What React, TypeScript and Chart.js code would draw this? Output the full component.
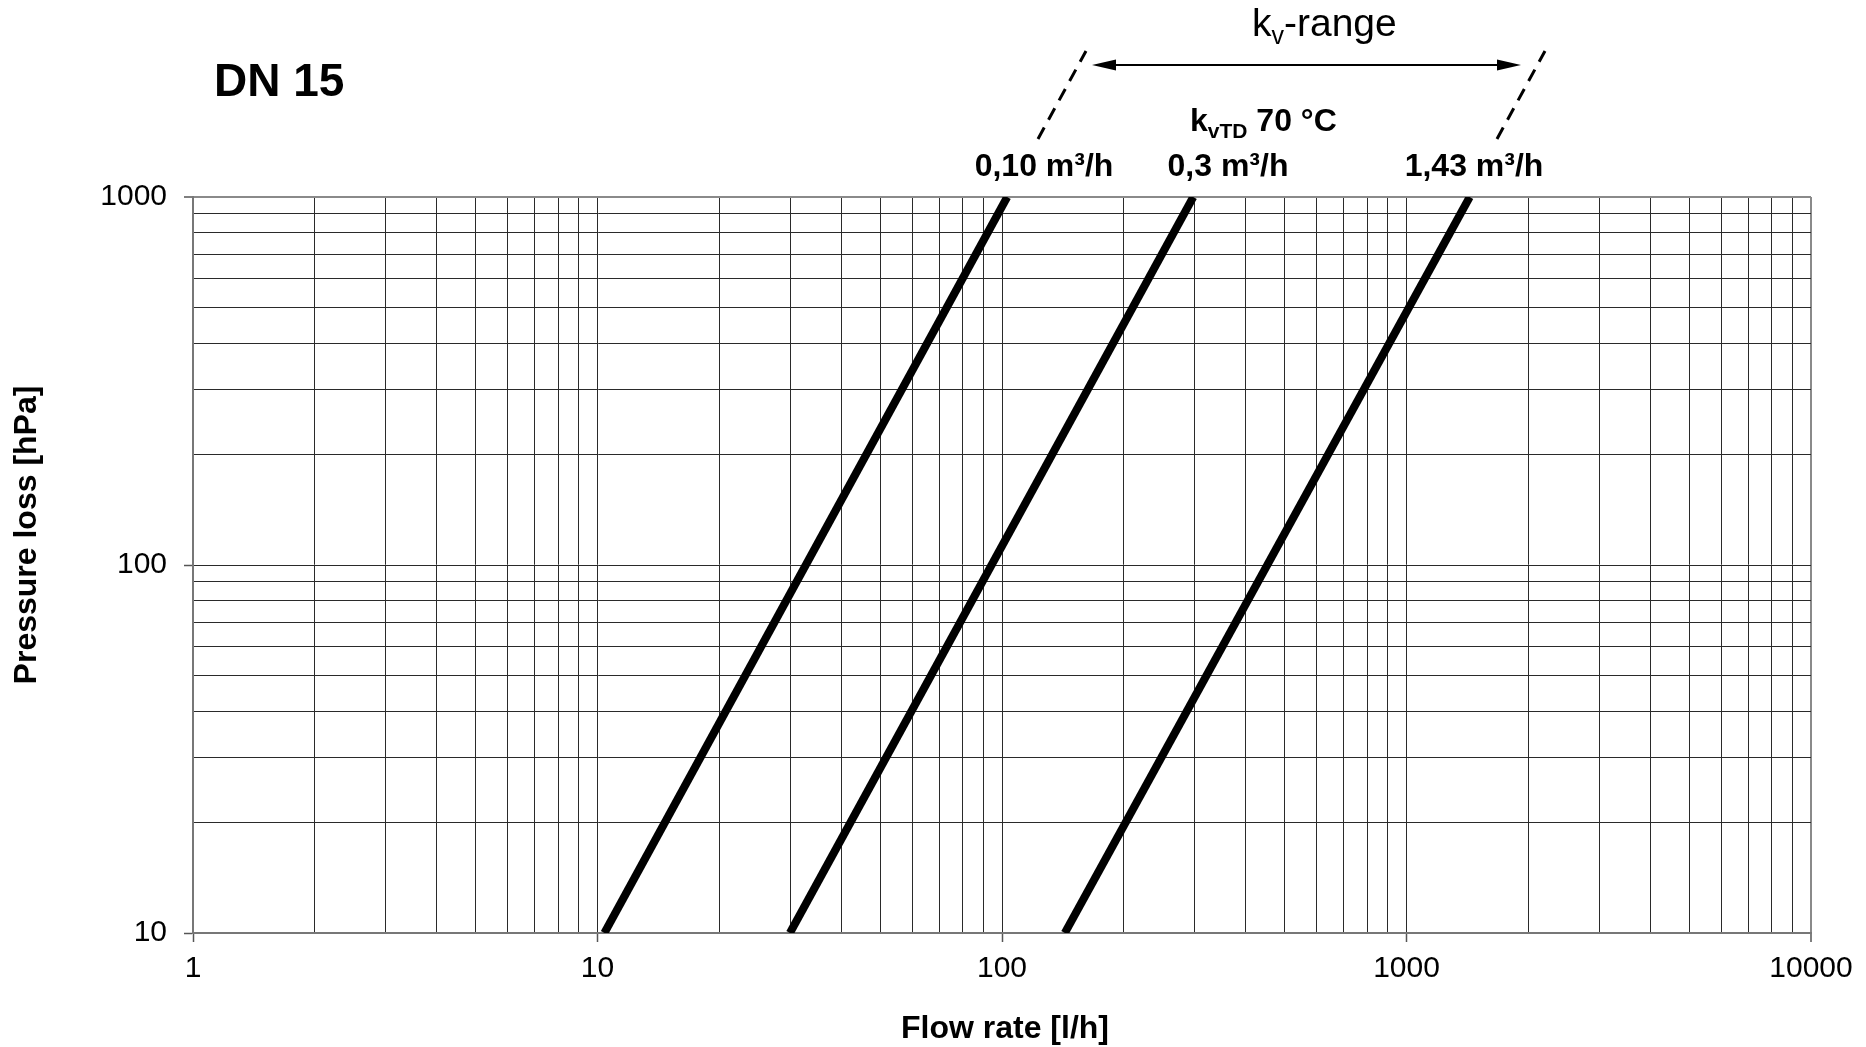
import React, { useEffect, useRef } from 'react';
import { Chart, registerables } from 'chart.js';

Chart.register(...registerables);

// ---- data ----
const kvLabels = ['0,10 m³/h', '0,3 m³/h', '1,43 m³/h'];
const flowAtLowPressure = [10.4, 29.9, 143]; // l/h at 10 hPa
const flowAtHighPressure = [103, 297, 1433]; // l/h at 1000 hPa
const pressureEnds = [10, 1000]; // hPa

const xGridValues = [
  1, 2, 3, 4, 5, 6, 7, 8, 9,
  10, 20, 30, 40, 50, 60, 70, 80, 90,
  100, 200, 300, 400, 500, 600, 700, 800, 900,
  1000, 2000, 3000, 4000, 5000, 6000, 7000, 8000, 9000,
  10000,
];
const yGridValues = [
  10, 20, 30, 40, 50, 60, 70, 80, 90,
  100, 200, 300, 400, 500, 600, 700, 800, 900,
  1000,
];
const xTickLabels = [1, 10, 100, 1000, 10000];
const yTickLabels = [10, 100, 1000];

const chartTitle = 'DN 15';
const xTitle = 'Flow rate [l/h]';
const yTitle = 'Pressure loss [hPa]';

const FONT = '"Liberation Sans", Arial, Helvetica, sans-serif';

const annotationPlugin = {
  id: 'annotations',
  afterDraw(chart: any) {
    const ctx = chart.ctx as CanvasRenderingContext2D;
    const area = chart.chartArea;
    ctx.save();
    ctx.fillStyle = '#000';
    ctx.strokeStyle = '#000';
    ctx.textBaseline = 'alphabetic';

    // Title
    ctx.font = `bold 46px ${FONT}`;
    ctx.textAlign = 'left';
    ctx.fillText(chartTitle, 214, 96);

    // Axis titles
    ctx.font = `bold 32px ${FONT}`;
    ctx.textAlign = 'center';
    ctx.fillText(xTitle, (area.left + area.right) / 2 + 3, 1038);
    ctx.save();
    ctx.translate(36, 535);
    ctx.rotate(-Math.PI / 2);
    ctx.fillText(yTitle, 0, 0);
    ctx.restore();

    // kv-range text
    ctx.textAlign = 'left';
    let x = 1252;
    ctx.font = `39px ${FONT}`;
    ctx.fillText('k', x, 36);
    x += ctx.measureText('k').width;
    ctx.font = `25px ${FONT}`;
    ctx.fillText('v', x, 44);
    x += ctx.measureText('v').width;
    ctx.font = `39px ${FONT}`;
    ctx.fillText('-range', x, 36);

    // Arrow
    const ay = 65;
    const ax1 = 1092;
    const ax2 = 1521;
    ctx.lineWidth = 2;
    ctx.beginPath();
    ctx.moveTo(ax1 + 10, ay);
    ctx.lineTo(ax2 - 10, ay);
    ctx.stroke();
    ctx.beginPath();
    ctx.moveTo(ax1, ay);
    ctx.lineTo(ax1 + 24, ay - 5.5);
    ctx.lineTo(ax1 + 24, ay + 5.5);
    ctx.closePath();
    ctx.fill();
    ctx.beginPath();
    ctx.moveTo(ax2, ay);
    ctx.lineTo(ax2 - 24, ay - 5.5);
    ctx.lineTo(ax2 - 24, ay + 5.5);
    ctx.closePath();
    ctx.fill();

    // Dashed lines
    ctx.lineWidth = 3;
    ctx.setLineDash([13, 9]);
    ctx.beginPath();
    ctx.moveTo(1038, 139);
    ctx.lineTo(1086, 51);
    ctx.moveTo(1497, 139);
    ctx.lineTo(1545, 51);
    ctx.stroke();
    ctx.setLineDash([]);

    // kvTD 70 °C
    x = 1190;
    ctx.font = `bold 32px ${FONT}`;
    ctx.fillText('k', x, 131);
    x += ctx.measureText('k').width;
    ctx.font = `bold 21px ${FONT}`;
    ctx.fillText('vTD', x, 138);
    x += ctx.measureText('vTD').width;
    ctx.font = `bold 32px ${FONT}`;
    ctx.fillText(' 70 °C', x, 131);

    // kv labels over line tops
    ctx.textAlign = 'center';
    ctx.font = `bold 32px ${FONT}`;
    const centers = [1044, 1228, 1474];
    kvLabels.forEach((t, i) => ctx.fillText(t, centers[i], 176));

    ctx.restore();
  },
};

export default function App() {
  const ref = useRef<HTMLCanvasElement | null>(null);

  useEffect(() => {
    document.body.style.margin = '0';
    document.body.style.overflow = 'hidden';
    const canvas = ref.current;
    if (!canvas) return;

    const datasets = kvLabels.map((label, i) => ({
      label,
      data: [
        { x: flowAtLowPressure[i], y: pressureEnds[0] },
        { x: flowAtHighPressure[i], y: pressureEnds[1] },
      ],
      showLine: true,
      borderColor: '#000',
      backgroundColor: '#000',
      borderWidth: 8,
      pointRadius: 0,
      clip: 0,
    }));

    const gridColor = (max: number) => (ctx: any) =>
      ctx.tick && ctx.tick.value === max ? '#8a8a8a' : '#2a2a2a';
    const gridWidth = (max: number) => (ctx: any) =>
      ctx.tick && ctx.tick.value === max ? 2 : 1;

    const chart = new Chart(canvas, {
      type: 'scatter',
      data: { datasets },
      plugins: [annotationPlugin],
      options: {
        responsive: false,
        animation: false,
        devicePixelRatio: 1,
        layout: { padding: { top: 197, right: 55, left: 0, bottom: 0 } },
        plugins: {
          legend: { display: false },
          tooltip: { enabled: false },
          title: { display: false },
        },
        scales: {
          x: {
            type: 'logarithmic',
            min: 1,
            max: 10000,
            afterBuildTicks: (scale: any) => {
              scale.ticks = xGridValues.map((v) => ({ value: v }));
            },
            afterFit: (scale: any) => {
              scale.height = 114;
            },
            ticks: {
              autoSkip: false,
              maxRotation: 0,
              minRotation: 0,
              padding: 9,
              color: '#000',
              font: { family: FONT, size: 30 },
              callback: (value: any) => (xTickLabels.includes(Number(value)) ? String(value) : ''),
            },
            grid: {
              color: gridColor(10000),
              lineWidth: gridWidth(10000),
              drawTicks: true,
              tickLength: 9,
              tickColor: (ctx: any) =>
                ctx.tick && xTickLabels.includes(ctx.tick.value) ? '#555' : 'rgba(0,0,0,0)',
              tickWidth: 1.5,
            },
            border: { display: true, color: '#777', width: 2 },
          },
          y: {
            type: 'logarithmic',
            min: 10,
            max: 1000,
            afterBuildTicks: (scale: any) => {
              scale.ticks = yGridValues.map((v) => ({ value: v }));
            },
            afterFit: (scale: any) => {
              scale.width = 193;
            },
            ticks: {
              autoSkip: false,
              padding: 17,
              color: '#000',
              font: { family: FONT, size: 30 },
              callback: (value: any) => (yTickLabels.includes(Number(value)) ? String(value) : ''),
            },
            grid: {
              color: gridColor(1000),
              lineWidth: gridWidth(1000),
              drawTicks: true,
              tickLength: 9,
              tickColor: (ctx: any) =>
                ctx.tick && yTickLabels.includes(ctx.tick.value) ? '#555' : 'rgba(0,0,0,0)',
              tickWidth: 1.5,
            },
            border: { display: true, color: '#777', width: 2 },
          },
        },
      },
    } as any);

    return () => chart.destroy();
  }, []);

  return (
    <div style={{ width: 1866, height: 1047, background: '#fff' }}>
      <canvas ref={ref} width={1866} height={1047} style={{ display: 'block', width: 1866, height: 1047 }} />
    </div>
  );
}
